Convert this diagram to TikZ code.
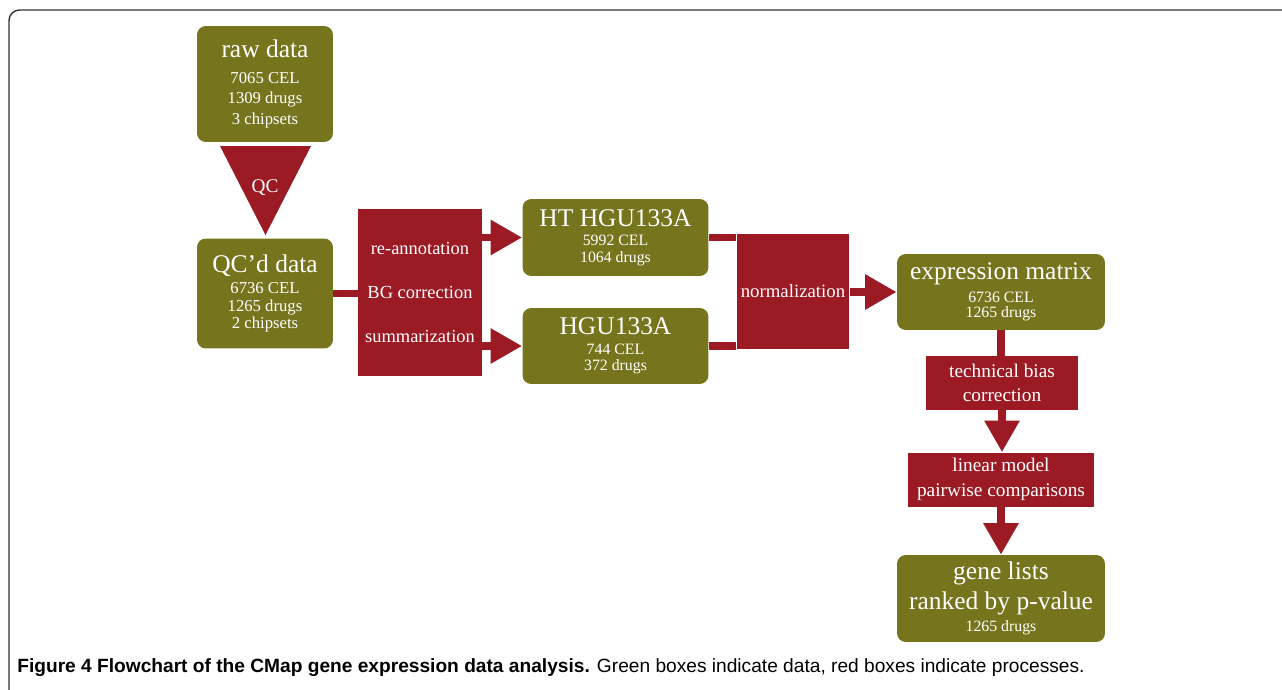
\documentclass[tikz,border=0pt]{standalone}
\usepackage{fontspec}
\setmainfont{Liberation Serif}
\newfontfamily\capfont{Liberation Sans}
\usetikzlibrary{arrows.meta}
\definecolor{datagreen}{RGB}{118,117,30}
\definecolor{procred}{RGB}{155,26,36}
\newcommand\bigtxt{\fontsize{14.5}{17}\selectfont}
\newcommand\midtxt{\fontsize{10.7}{13.5}\selectfont}
\begin{document}
\begin{tikzpicture}[x=0.02cm,y=-0.02cm,
data/.style={fill=datagreen,text=white,rounded corners=5pt,align=center,inner sep=0pt},
proc/.style={fill=procred,text=white,align=center,inner sep=0pt,font=\midtxt},
conn/.style={draw=procred,line width=4.5pt},
arr/.style={conn,-{Triangle[length=18pt,width=19pt]}}]
\useasboundingbox (0,0) rectangle (1282,690);
\draw[black!80,line width=0.8pt,rounded corners=6pt] (1282,10) -- (9,10) -- (9,690);
\node[data,minimum width=2.72cm,minimum height=2.32cm,font=\fontsize{9.5}{11.6}\selectfont] (raw) at (265,84)
  {{\bigtxt raw data}\\[3pt]7065 CEL\\1309 drugs\\3 chipsets};
\fill[procred] (220,146) -- (311,146) -- (265.5,235) -- cycle;
\node[text=white,font=\fontsize{11}{13}\selectfont,inner sep=0pt] (qc) at (265,188) {QC};
\node[data,minimum width=2.72cm,minimum height=2.2cm,font=\fontsize{9.5}{10}\selectfont] (qcd) at (265,293.5)
  {{\bigtxt QC'd data}\\[2pt]6736 CEL\\1265 drugs\\2 chipsets};
\node[proc,minimum width=2.48cm,minimum height=3.36cm,font=\fontsize{10.5}{25}\selectfont] (pre) at (420,292.5)
  {re-annotation\\BG correction\\summarization};
\node[data,minimum width=3.72cm,minimum height=1.54cm,font=\fontsize{9}{9.6}\selectfont] (ht) at (615.5,237.5)
  {{\bigtxt HT HGU133A}\\[1.5pt]5992 CEL\\1064 drugs};
\node[data,minimum width=3.72cm,minimum height=1.52cm,font=\fontsize{9}{9.6}\selectfont] (hgu) at (615.5,346)
  {{\bigtxt HGU133A}\\[1.5pt]744 CEL\\372 drugs};
\node[proc,minimum width=2.26cm,minimum height=2.3cm] (norm) at (793,291.5) {normalization};
\node[data,minimum width=4.16cm,minimum height=1.52cm,font=\fontsize{9}{8.8}\selectfont] (expr) at (1001,292)
  {{\bigtxt expression matrix}\\[2.7pt]6736 CEL\\1265 drugs};
\node[proc,minimum width=3.04cm,minimum height=1.08cm,font=\fontsize{11}{13.6}\selectfont] (tech) at (1002,383)
  {technical bias\\correction};
\node[proc,minimum width=3.72cm,minimum height=1.08cm,font=\fontsize{11}{14.5}\selectfont] (lin) at (1001,479.5)
  {linear model\\pairwise comparisons};
\node[data,minimum width=4.16cm,minimum height=1.74cm,font=\bigtxt] (gene) at (1001,598.5)
  {gene lists\\ranked by p-value\\[-4pt]{\fontsize{9}{10}\selectfont 1265 drugs}};
\draw[conn] (qcd.east) -- (qcd.east -| pre.west);
\draw[arr] (pre.east |- ht) -- (ht.west);
\draw[arr] (pre.east |- hgu) -- (hgu.west);
\draw[conn] (ht.east) -- (ht.east -| norm.west);
\draw[conn] (hgu.east) -- (hgu.east -| norm.west);
\draw[arr] (norm.east |- expr) -- (expr.west);
\draw[conn] (expr.south) -- (expr.south |- tech.north);
\draw[arr] (tech.south) -- (tech.south |- lin.north);
\draw[arr] (lin.south) -- (lin.south |- gene.north);
\node[anchor=west,inner sep=0pt,font=\capfont\fontsize{10.9}{13}\selectfont] (cap) at (17,668)
  {\textbf{Figure 4 Flowchart of the CMap gene expression data analysis.} Green boxes indicate data, red boxes indicate processes.};
\end{tikzpicture}
\end{document}
